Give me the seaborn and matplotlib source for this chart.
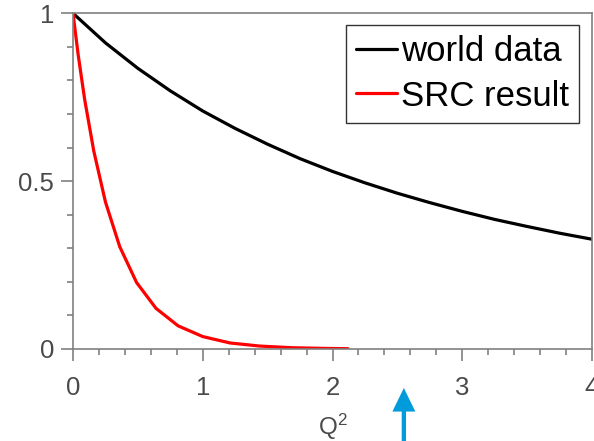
import matplotlib
matplotlib.use("Agg")
import matplotlib.pyplot as plt
import numpy as np
import pandas as pd
import seaborn as sns
from matplotlib.ticker import MultipleLocator, FixedLocator

# ---- data ----
world_q2 = [0.0, 0.25, 0.5, 0.75, 1.0, 1.25, 1.5, 1.75, 2.0, 2.25, 2.5, 2.75,
            3.0, 3.25, 3.5, 3.75, 4.0]
world_ff = [1.0, 0.912, 0.836, 0.769, 0.709, 0.657, 0.610, 0.567, 0.529, 0.495,
            0.464, 0.436, 0.410, 0.386, 0.365, 0.345, 0.327]

src_q2 = [0.0, 0.04, 0.09, 0.16, 0.25, 0.36, 0.49, 0.64, 0.81, 1.0, 1.21,
          1.44, 1.69, 1.96, 2.12]
src_ff = [1.0, 0.876, 0.743, 0.590, 0.438, 0.305, 0.198, 0.121, 0.069, 0.037,
          0.018, 0.0087, 0.0038, 0.0016, 0.0009]

series_labels = ["world data", "SRC result"]
x_ticks = [0, 1, 2, 3, 4]
y_ticks = [0, 0.5, 1]
y_tick_labels = ["0", "0.5", "1"]
x_label = "Q$^2$"
arrow_q2 = 2.55

sns.set_theme(style="white")
plt.rcParams['font.family'] = ['Liberation Sans', 'DejaVu Sans']
plt.rcParams['mathtext.fontset'] = 'custom'
plt.rcParams['mathtext.rm'] = 'Liberation Sans'
plt.rcParams['mathtext.it'] = 'Liberation Sans'
plt.rcParams['mathtext.default'] = 'regular'

df = pd.concat([
    pd.DataFrame({"Q2": world_q2, "F": world_ff, "series": series_labels[0]}),
    pd.DataFrame({"Q2": src_q2, "F": src_ff, "series": series_labels[1]}),
], ignore_index=True)

W, H = 594, 441
fig = plt.figure(figsize=(W / 100, H / 100), dpi=100)
ax = fig.add_axes([73 / W, (H - 349) / H, 519 / W, 335.7 / H])

sns.lineplot(data=df, x="Q2", y="F", hue="series", estimator=None, sort=False,
             palette={series_labels[0]: "black", series_labels[1]: "#ff0000"},
             linewidth=2.3, ax=ax, legend=True)

ax.set_xlim(0, 4)
ax.set_ylim(0, 1)
ax.xaxis.set_major_locator(FixedLocator(x_ticks))
ax.xaxis.set_minor_locator(MultipleLocator(0.2))
ax.yaxis.set_major_locator(FixedLocator(y_ticks))
ax.set_yticklabels(y_tick_labels)
ax.yaxis.set_minor_locator(MultipleLocator(0.1))

spine_c = "#808080"
for s in ax.spines.values():
    s.set_color(spine_c)
    s.set_linewidth(1.2)
    s.set_visible(True)

ax.tick_params(axis='both', which='both', direction='out', color=spine_c,
               width=1.2, labelcolor="#4a4a4a", labelsize=18.5,
               bottom=True, left=True, top=False, right=False)
ax.tick_params(axis='both', which='major', length=8.5)
ax.tick_params(axis='both', which='minor', length=4.3)
ax.tick_params(axis='x', which='major', pad=11)
ax.tick_params(axis='y', which='major', pad=5)

ax.set_xlabel(x_label, fontsize=17.5, color="#4a4a4a", labelpad=8.5)
ax.set_ylabel("")

handles, labels = ax.get_legend_handles_labels()
leg = ax.legend(handles, labels, loc="upper right",
                bbox_to_anchor=(579 / W, 1 - 25 / H), bbox_transform=fig.transFigure,
                fontsize=25, frameon=True, fancybox=False, framealpha=1,
                edgecolor="#333333", handlelength=1.18, handletextpad=0.1,
                borderpad=0.3, labelspacing=0.32, borderaxespad=0,
                labelcolor="black")
leg.get_frame().set_linewidth(1.0)
for line in leg.get_lines():
    line.set_linewidth(2.3)

ax.annotate("", xy=(arrow_q2, -0.116), xytext=(arrow_q2, -0.30),
            xycoords=('data', 'axes fraction'), textcoords=('data', 'axes fraction'),
            annotation_clip=False,
            arrowprops=dict(facecolor="#009bdb", edgecolor="none", width=3.1,
                            headwidth=16.5, headlength=17, shrink=0))

fig.savefig("out.png", dpi=100)
